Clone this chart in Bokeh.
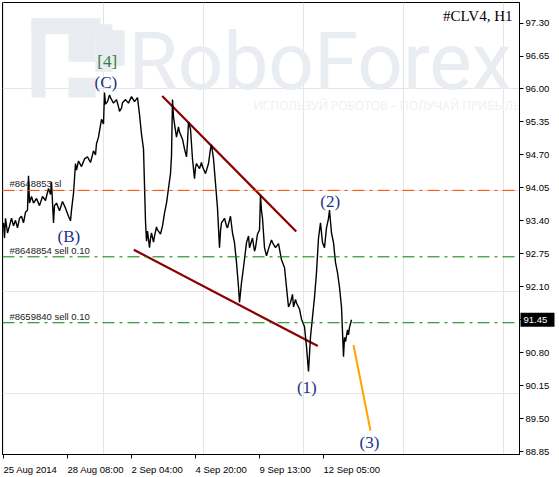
from bokeh.plotting import figure
from bokeh.models import (Range1d, LinearAxis, FixedTicker, CustomJSTickFormatter,
                          PrintfTickFormatter, Span, CustomLabelingPolicy)
from bokeh.core.properties import value
from bokeh.embed import file_html
from bokeh.resources import INLINE

# ---- data -------------------------------------------------------------
symbol_title = "#CLV4, H1"

# hourly bar index and price (H1 closes)
hours = [0, 1, 2, 4, 6, 8, 10, 12, 14, 16, 18, 20, 22, 24, 25, 26, 28, 30, 33, 36,
         39, 42, 45, 47, 48, 50, 51, 53, 56, 59, 62, 65, 67, 68, 70, 72, 73, 75, 78, 81,
         84, 87, 90, 92, 93, 95, 96, 98, 100, 101, 102, 104, 106, 107, 110, 113, 115, 116, 118, 119,
         122, 125, 128, 131, 134, 136, 138, 140, 142, 143, 144, 146, 147, 148, 150, 151, 153, 154, 157, 159,
         161, 163, 165, 167, 168, 169, 170, 171, 173, 175, 176, 179, 181, 183, 184, 185, 187, 189, 191, 192,
         193, 196, 198, 199, 202, 205, 207, 208, 210, 212, 214, 216, 217, 218, 221, 223, 224, 227, 229, 231,
         233, 235, 236, 238, 240, 243, 245, 246, 249, 251, 252, 254, 256, 257, 258, 259, 261, 263, 266, 268,
         269, 272, 275, 278, 281, 283, 285, 287, 289, 290, 292, 293, 296, 298, 301, 303, 305, 307, 309, 311,
         313, 315, 317, 319, 321, 323, 325, 326, 328, 330, 332, 334, 336, 338, 340, 341, 342, 344, 345, 346,
         348]
price = [93.36, 93.06, 93.45, 93.16, 93.30, 93.45, 93.30, 93.41, 93.26, 93.45, 93.49, 93.36, 93.57, 93.61, 94.29, 93.75, 93.88, 93.75, 93.84, 93.70,
         93.88, 93.80, 94.04, 93.92, 94.17, 93.36, 93.70, 93.75, 93.60, 93.78, 93.65, 93.49, 93.40, 93.61, 93.94, 94.53, 94.40, 94.58, 94.47, 94.62,
         94.66, 94.55, 94.78, 94.70, 94.92, 95.05, 95.17, 95.40, 95.31, 95.93, 95.70, 95.75, 95.88, 95.83, 95.72, 95.79, 95.65, 95.56, 95.62, 95.73,
         95.79, 95.72, 95.85, 95.75, 95.83, 95.50, 95.11, 94.82, 93.39, 93.00, 93.20, 92.87, 93.05, 93.16, 92.98, 93.10, 93.28, 93.22, 93.14, 93.30,
         93.55, 93.75, 94.04, 94.33, 94.68, 95.79, 95.45, 95.31, 95.05, 95.25, 95.15, 95.01, 94.82, 94.66, 94.95, 95.35, 95.21, 94.62, 94.23, 94.45,
         94.53, 94.43, 94.55, 94.47, 94.33, 94.53, 94.82, 94.90, 94.62, 94.14, 93.65, 92.87, 93.20, 93.36, 93.45, 93.30, 93.26, 93.49, 93.16, 92.97,
         92.58, 92.09, 91.79, 92.18, 92.48, 92.97, 93.10, 92.87, 93.06, 92.80, 92.87, 93.14, 93.22, 93.90, 93.60, 93.45, 92.87, 92.71, 92.91, 93.02,
         92.97, 92.87, 92.95, 92.63, 92.48, 92.09, 91.70, 91.79, 91.95, 91.70, 91.85, 91.78, 91.66, 91.46, 91.31, 90.92, 90.43, 91.11, 91.50, 91.89,
         92.38, 93.06, 93.36, 92.97, 92.87, 93.26, 93.45, 93.61, 93.16, 92.97, 92.58, 92.38, 92.09, 91.70, 90.72, 91.10, 91.02, 91.25, 91.15, 91.30,
         91.45]

# price scale
price_ticks = [97.30, 96.65, 96.00, 95.35, 94.70, 94.05, 93.40, 92.75, 92.10, 91.45, 90.80, 90.15, 89.50, 88.85]

# time scale
time_ticks = [0, 64, 128, 192, 256, 320]
time_labels = ["25 Aug 2014", "28 Aug 08:00", "2 Sep 04:00", "4 Sep 20:00", "9 Sep 13:00", "12 Sep 05:00"]

# open orders
order_levels = [94.00, 92.69, 91.39]
order_texts = ["#8648853 sl", "#8648854 sell 0.10", "#8659840 sell 0.10"]
order_colors = ["#FF4500", "#008000", "#008000"]

# channel lines and projected wave
upper_x, upper_y = [158.7, 292.7], [95.86, 93.19]
lower_x, lower_y = [130.3, 314.3], [92.83, 90.93]
target_x, target_y = [350.0, 367.0], [90.95, 89.26]

# wave marks
wave_text = ["[4]", "(C)", "(B)", "(2)", "(1)", "(3)"]
wave_x = [103.7, 102.3, 65.3, 326.7, 303.3, 366.0]
wave_y = [96.55, 96.12, 93.10, 93.78, 90.12, 89.02]
wave_colors = ["#2F7F3F", "#22318C", "#22318C", "#22318C", "#22318C", "#22318C"]

last_price = price[-1]

# ---- figure -----------------------------------------------------------
X0, X1 = -1.0, 516.0
Y0, Y1 = 88.792, 97.705
FRAME_W, FRAME_H = 517.0, 457.0

p = figure(width=559, height=477, x_range=Range1d(X0, X1), y_range=Range1d(Y0, Y1),
           output_backend="svg", toolbar_location=None,
           x_axis_location=None, y_axis_location=None,
           min_border_left=2, min_border_top=2, min_border_right=40, min_border_bottom=18)
p.outline_line_color = "black"
p.outline_line_width = 1
p.background_fill_color = "white"
p.border_fill_color = "white"


def fx(px):
    """frame pixel column -> bar coordinate"""
    return X0 + (px - 2) * (X1 - X0) / FRAME_W


def fy(py):
    """frame pixel row -> price coordinate"""
    return Y1 - (py - 2) * (Y1 - Y0) / FRAME_H


# watermark: logo blocks, brand name and slogan
wm = "#E9ECF1"
logo = [(31, 45, 18, 98), (31, 100, 18, 34), (68, 95, 34, 62), (68, 95, 78, 98),
        (95, 112, 24, 72), (100, 124, 30, 66)]
p.quad(left=[fx(a) for a, b, c, d in logo], right=[fx(b) for a, b, c, d in logo],
       top=[fy(c) for a, b, c, d in logo], bottom=[fy(d) for a, b, c, d in logo],
       color=wm, line_color=None)
p.text(x=[fx(128)], y=[fy(62)], text=["RoboForex"], text_font=value("Roboto"),
       text_font_size="80px", text_color=wm, text_align="left", text_baseline="middle")
p.text(x=[fx(253)], y=[fy(106)], text=["ИСПОЛЬЗУЙ РОБОТОВ – ПОЛУЧАЙ ПРИБЫЛЬ"],
       text_font=value("Open Sans"), text_font_size="12px", text_color="#EEF0F3",
       text_align="left", text_baseline="middle")

# order levels
for lvl, col in zip(order_levels, order_colors):
    p.add_layout(Span(location=lvl, dimension="width", line_color=col,
                      line_width=1, line_dash="12 5 3 5"))
p.text(x=[fx(9)] * len(order_levels), y=order_levels, text=order_texts,
       text_font=value("Liberation Sans"), text_font_size="9.5px", text_color="#222222",
       text_align="left", text_baseline="bottom", y_offset=-1)

# channel
p.line(upper_x, upper_y, line_color="#8B0000", line_width=2.2)
p.line(lower_x, lower_y, line_color="#8B0000", line_width=2.2)
p.line(target_x, target_y, line_color="#FFA500", line_width=2)

# price
p.line(hours, price, line_color="black", line_width=1.4)

# wave marks
p.text(x=wave_x, y=wave_y, text=wave_text, text_color=wave_colors,
       text_font=value("Liberation Serif"), text_font_size="17px",
       text_align="center", text_baseline="middle")

# symbol / timeframe
p.text(x=[fx(512)], y=[fy(16)], text=[symbol_title], text_font=value("Liberation Serif"),
       text_font_size="15px", text_color="black", text_align="right", text_baseline="middle")

# ---- axes -------------------------------------------------------------
yax = LinearAxis(ticker=FixedTicker(ticks=price_ticks),
                 formatter=PrintfTickFormatter(format="%.2f"))
yax.major_tick_in = 0
yax.major_tick_out = 4
yax.minor_tick_out = 0
yax.major_label_standoff = 2
yax.major_label_text_font = "Liberation Sans"
yax.major_label_text_font_size = "9.5px"
yax.major_label_text_color = "black"
yax.axis_line_color = "black"
p.add_layout(yax, "right")

# tick marks of the time scale (unlabelled)
xtk = LinearAxis(ticker=FixedTicker(ticks=time_ticks))
xtk.major_tick_in = 0
xtk.major_tick_out = 4
xtk.minor_tick_out = 0
xtk.major_label_policy = CustomLabelingPolicy(
    code="for (let i = 0; i < indices.size; i++) { indices.unset(i) }; return indices")
xtk.major_label_text_font_size = "1px"
xtk.major_label_standoff = 0
xtk.axis_line_color = "black"
p.add_layout(xtk, "below")

# time labels start at their tick
ADV = {" ": 0.278, ":": 0.278, "A": 0.667, "S": 0.667, "u": 0.556, "g": 0.556,
       "e": 0.556, "p": 0.556}
LBL_PX = 9.5
px_per_bar = (X1 - X0) / FRAME_W
centers = [t + 0.5 * LBL_PX * sum(ADV.get(c, 0.556) for c in s) * px_per_bar
           for t, s in zip(time_ticks, time_labels)]
xlb = LinearAxis(ticker=FixedTicker(ticks=centers),
                 formatter=CustomJSTickFormatter(args=dict(labels=time_labels),
                                                 code="return labels[index]"))
xlb.major_tick_in = 0
xlb.major_tick_out = 0
xlb.minor_tick_out = 0
xlb.major_tick_line_color = None
xlb.axis_line_color = None
xlb.major_label_standoff = 1
xlb.major_label_text_font = "Liberation Sans"
xlb.major_label_text_font_size = "9.5px"
xlb.major_label_text_color = "black"
p.add_layout(xlb, "below")

# current price marker on the scale
box_h = 14 * (Y1 - Y0) / FRAME_H
p.quad(left=[fx(520)], right=[fx(554)], top=[last_price + box_h / 2],
       bottom=[last_price - box_h / 2], color="black", line_color=None, level="overlay")
p.text(x=[fx(523)], y=[last_price], text=[f"{last_price:.2f}"], text_color="white",
       text_font=value("Liberation Sans"), text_font_size="9.5px",
       text_align="left", text_baseline="middle", level="overlay")

open("out.html", "w").write(file_html(p, INLINE))
